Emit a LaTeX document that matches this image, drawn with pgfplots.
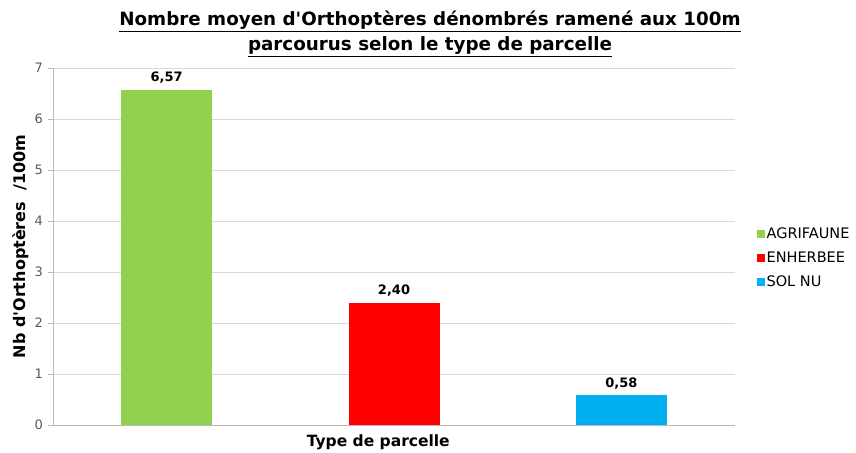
\documentclass[border=0pt]{standalone}
\usepackage{pgfplots}
\pgfplotsset{compat=1.18}
\usepackage{fontspec}
\setmainfont{DejaVu Sans}
\definecolor{cgreen}{HTML}{92D050}
\definecolor{cred}{HTML}{FF0000}
\definecolor{cblue}{HTML}{00B0F0}
\definecolor{cgrid}{HTML}{D9D9D9}
\definecolor{ctick}{HTML}{595959}
\begin{document}
\begin{tikzpicture}[x=1pt,y=1pt]
\path (0,0) rectangle (856,450);
\node[align=center, font=\bfseries\fontsize{18.3}{25}\selectfont] at (430,416)
  {\underline{Nombre moyen d\textquotesingle Orthoptères dénombrés ramené aux 100m}\\
   \underline{parcourus selon le type de parcelle}};
\begin{axis}[
    at={(53pt,25pt)}, anchor=south west,
    scale only axis, width=682pt, height=357pt,
    xmin=-0.5, xmax=2.5, ymin=0, ymax=7,
    ytick={0,1,...,7}, xtick=\empty,
    axis lines=left,
    axis line style={-, draw=cgrid!85!black, line width=0.8pt},
    ymajorgrids, grid style={cgrid, line width=0.8pt},
    tick align=outside, major tick length=4.5pt,
    tick style={cgrid!85!black, line width=0.8pt},
    /pgf/number format/assume math mode=true,
    yticklabel style={font=\fontsize{13}{15}\selectfont, text=ctick, xshift=-2pt},
    ylabel={Nb d\textquotesingle Orthoptères~~/100m},
    ylabel style={font=\bfseries\fontsize{16}{18}\selectfont, at={(axis description cs:-0.03,0.5)}},
    xlabel={Type de parcelle},
    xlabel style={font=\bfseries\fontsize{15.5}{17}\selectfont, at={(axis description cs:0.477,-0.016)}, anchor=north},
    ybar, bar width=91pt,
    nodes near coords,
    nodes near coords style={font=\bfseries\fontsize{13}{15}\selectfont, black, yshift=3pt,
      /pgf/number format/.cd, fixed, fixed zerofill, precision=2, use comma},
    legend cell align=left,
    legend style={draw=none, at={(axis description cs:1.027,0.468)}, anchor=west,
      font=\fontsize{14.5}{16}\selectfont, row sep=8pt,
      /tikz/every even column/.append style={column sep=1pt}},
    legend image code/.code={\fill[#1] (0pt,-4pt) rectangle (8pt,4pt);},
]
\addplot[fill=cgreen, draw=none, bar shift=0pt] coordinates {(0,6.57)};
\addplot[fill=cred, draw=none, bar shift=0pt] coordinates {(1,2.40)};
\addplot[fill=cblue, draw=none, bar shift=0pt] coordinates {(2,0.58)};
\legend{AGRIFAUNE,ENHERBEE,SOL NU}
\end{axis}
\end{tikzpicture}
\end{document}
